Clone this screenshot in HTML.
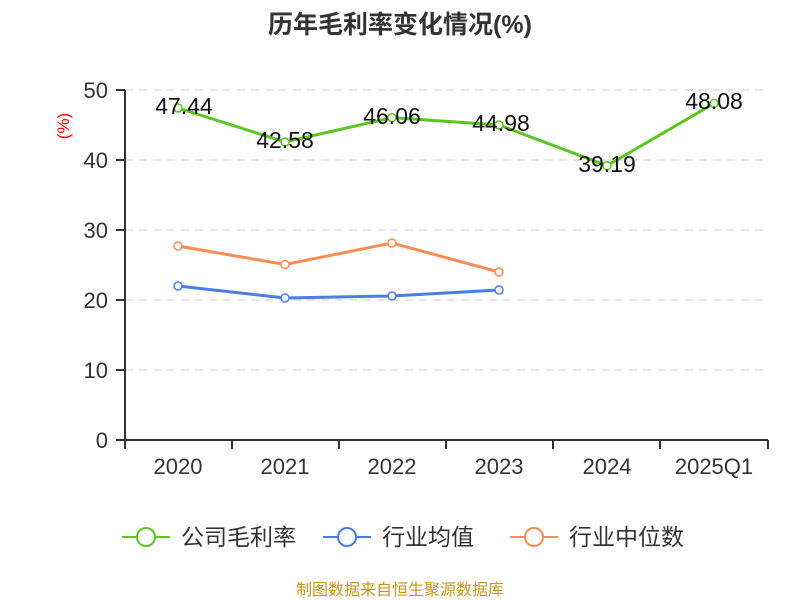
<!DOCTYPE html>
<html><head><meta charset="utf-8"><style>
body{margin:0;background:#fff;}
svg{display:block;font-family:"Liberation Sans","Noto Sans CJK SC",sans-serif;}
</style></head><body>
<svg width="800" height="600" viewBox="0 0 800 600">
<text x="400" y="33" text-anchor="middle" font-size="25" font-weight="bold" fill="#333">历年毛利率变化情况(%)</text>
<g stroke="#ccc" stroke-dasharray="8,6" stroke-width="1">
<line x1="125" y1="90" x2="768" y2="90"/><line x1="125" y1="160" x2="768" y2="160"/>
<line x1="125" y1="230" x2="768" y2="230"/><line x1="125" y1="300" x2="768" y2="300"/>
<line x1="125" y1="370" x2="768" y2="370"/></g>
<g stroke="#333" stroke-width="2">
<line x1="125" y1="90" x2="125" y2="440"/><line x1="125" y1="440" x2="768" y2="440"/>
<line x1="116" y1="90" x2="125" y2="90"/><line x1="116" y1="160" x2="125" y2="160"/><line x1="116" y1="230" x2="125" y2="230"/><line x1="116" y1="300" x2="125" y2="300"/><line x1="116" y1="370" x2="125" y2="370"/><line x1="116" y1="440" x2="125" y2="440"/>
<line x1="125" y1="440" x2="125" y2="449"/><line x1="232" y1="440" x2="232" y2="449"/><line x1="339" y1="440" x2="339" y2="449"/><line x1="446" y1="440" x2="446" y2="449"/><line x1="553" y1="440" x2="553" y2="449"/><line x1="660" y1="440" x2="660" y2="449"/><line x1="768" y1="440" x2="768" y2="449"/>
</g>
<g font-size="22" fill="#333" text-anchor="end">
<text x="108" y="98">50</text><text x="108" y="168">40</text><text x="108" y="238">30</text><text x="108" y="308">20</text><text x="108" y="378">10</text><text x="108" y="448">0</text></g>
<text transform="translate(69,126) rotate(-90)" font-size="17" fill="red" text-anchor="middle">(%)</text>
<g font-size="22" fill="#333" text-anchor="middle">
<text x="178" y="474">2020</text><text x="285" y="474">2021</text><text x="392" y="474">2022</text><text x="499" y="474">2023</text><text x="607" y="474">2024</text><text x="714" y="474">2025Q1</text></g>
<polyline fill="none" stroke="#5cc520" stroke-width="3" points="178,108 285,142 392,117.6 499,125 607,165.7 714,103.4"/>
<polyline fill="none" stroke="#4a7ee0" stroke-width="3" points="178,286 285,298 392,296 499,290"/>
<polyline fill="none" stroke="#fc8c55" stroke-width="3" points="178,246 285,264.5 392,243 499,272"/>
<g fill="#fff" stroke="#5cc520" stroke-width="1.5"><circle cx="178" cy="108" r="4"/><circle cx="285" cy="142" r="4"/><circle cx="392" cy="117.6" r="4"/><circle cx="499" cy="125" r="4"/><circle cx="607" cy="165.7" r="4"/><circle cx="714" cy="103.4" r="4"/></g>
<g fill="#fff" stroke="#4a7ee0" stroke-width="1.5"><circle cx="178" cy="286" r="4"/><circle cx="285" cy="298" r="4"/><circle cx="392" cy="296" r="4"/><circle cx="499" cy="290" r="4"/></g>
<g fill="#fff" stroke="#fc8c55" stroke-width="1.5"><circle cx="178" cy="246" r="4"/><circle cx="285" cy="264.5" r="4"/><circle cx="392" cy="243" r="4"/><circle cx="499" cy="272" r="4"/></g>
<g font-size="23" fill="#111" text-anchor="middle">
<text x="184" y="114">47.44</text><text x="285" y="148">42.58</text><text x="392" y="124">46.06</text><text x="501" y="131">44.98</text><text x="607" y="172">39.19</text><text x="714" y="109">48.08</text></g>
<g stroke-width="2" fill="#fff">
<line x1="122" y1="537" x2="170" y2="537" stroke="#5cc520"/><circle cx="146" cy="537" r="9" stroke="#5cc520"/>
<line x1="323" y1="537" x2="371" y2="537" stroke="#4a7ee0"/><circle cx="347" cy="537" r="9" stroke="#4a7ee0"/>
<line x1="510" y1="537" x2="558" y2="537" stroke="#fc8c55"/><circle cx="534" cy="537" r="9" stroke="#fc8c55"/></g>
<g font-size="23" fill="#333">
<text x="181" y="545">公司毛利率</text><text x="382" y="545">行业均值</text><text x="569" y="545">行业中位数</text></g>
<text x="400" y="595" text-anchor="middle" font-size="16" fill="#c8961e">制图数据来自恒生聚源数据库</text>
</svg>
</body></html>
